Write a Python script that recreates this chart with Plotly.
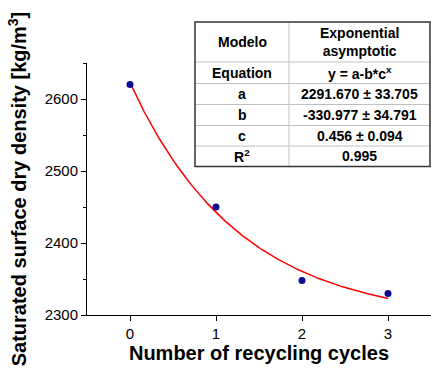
import numpy as np
import plotly.graph_objects as go

# Measured densities after each recycling cycle
cycles = [0, 1, 2, 3]
density = [2620, 2450, 2348, 2330]

# Exponential asymptotic fit parameters: y = a - b*c^x
fit_a = 2291.670
fit_b = -330.977
fit_c = 0.456

# Summary table content
table_rows = [
    ("Modelo", "Exponential<br>asymptotic"),
    ("Equation", "y = a-b*c<sup>x</sup>"),
    ("a", "2291.670 ± 33.705"),
    ("b", "-330.977 ± 34.791"),
    ("c", "0.456 ± 0.094"),
    ("R<sup>2</sup>", "0.995"),
]

W, H = 431, 371
ML, MR, MT, MB = 87, 0, 63, 56

xf = np.linspace(0, 3, 200)
yf = fit_a - fit_b * fit_c ** xf

fig = go.Figure()
fig.add_trace(go.Scatter(x=xf, y=yf, mode="lines",
                         line=dict(color="#ff0000", width=1.5),
                         hoverinfo="skip", showlegend=False))
fig.add_trace(go.Scatter(x=cycles, y=density, mode="markers",
                         marker=dict(color="#0a0a96", size=7),
                         showlegend=False))

# Table drawn in pixel coordinates mapped onto paper space
pw = W - ML - MR
ph = H - MT - MB


def px(x):
    return (x - ML) / pw


def py(y):
    return 1 - (y - MT) / ph


tx0, tx1, tdiv = 195, 430, 289
row_edges = [22, 62, 83.5, 104.5, 125.5, 146, 166.5]

shapes = []
for yy in row_edges[1:-1]:
    shapes.append(dict(type="line", xref="paper", yref="paper",
                       x0=px(tx0), x1=px(tx1), y0=py(yy), y1=py(yy),
                       line=dict(color="#c0c0c0", width=1)))
shapes.append(dict(type="line", xref="paper", yref="paper",
                   x0=px(tdiv), x1=px(tdiv), y0=py(row_edges[0]), y1=py(row_edges[-1]),
                   line=dict(color="#c0c0c0", width=1)))
shapes.append(dict(type="rect", xref="paper", yref="paper",
                   x0=px(tx0), x1=px(tx1), y0=py(row_edges[-1]), y1=py(row_edges[0]),
                   line=dict(color="#333333", width=1.5), fillcolor="rgba(0,0,0,0)"))

annotations = []
tfont = dict(family="Liberation Sans, Arial, sans-serif", size=14, color="#000000")
for i, (left, right) in enumerate(table_rows):
    yc = (row_edges[i] + row_edges[i + 1]) / 2
    annotations.append(dict(x=px((tx0 + tdiv) / 2), y=py(yc), xref="paper", yref="paper",
                            text="<b>%s</b>" % left, showarrow=False, font=tfont,
                            xanchor="center", yanchor="middle"))
    annotations.append(dict(x=px((tdiv + tx1) / 2), y=py(yc), xref="paper", yref="paper",
                            text="<b>%s</b>" % right, showarrow=False, font=tfont,
                            xanchor="center", yanchor="middle"))

axis_font = dict(family="Liberation Sans, Arial, sans-serif", size=15, color="#000000")
title_font = dict(family="Liberation Sans, Arial, sans-serif", size=20, color="#000000")

fig.update_layout(
    width=W, height=H,
    margin=dict(l=ML, r=MR, t=MT, b=MB),
    paper_bgcolor="white", plot_bgcolor="white",
    shapes=shapes, annotations=annotations,
    xaxis=dict(range=[-0.5, 3.5], tickvals=[0, 1, 2, 3], ticks="outside",
               ticklen=5, tickwidth=1, tickcolor="#000", showline=True,
               linecolor="#000", linewidth=1, showgrid=False, zeroline=False,
               tickfont=axis_font,
               title=dict(text="<b>Number of recycling cycles</b>", font=title_font,
                          standoff=4)),
    yaxis=dict(range=[2300, 2650], tickvals=[2300, 2400, 2500, 2600], ticks="outside",
               ticklen=5, tickwidth=1, tickcolor="#000", showline=True,
               linecolor="#000", linewidth=1, showgrid=False, zeroline=False,
               tickfont=axis_font,
               minor=dict(dtick=50, tick0=2300, ticks="outside", ticklen=3,
                          tickcolor="#000", showgrid=False),
               title=dict(text="<b>Saturated surface dry density [kg/m<sup>3</sup>]</b>",
                          font=title_font, standoff=12)),
)

fig.write_html("out.html")
